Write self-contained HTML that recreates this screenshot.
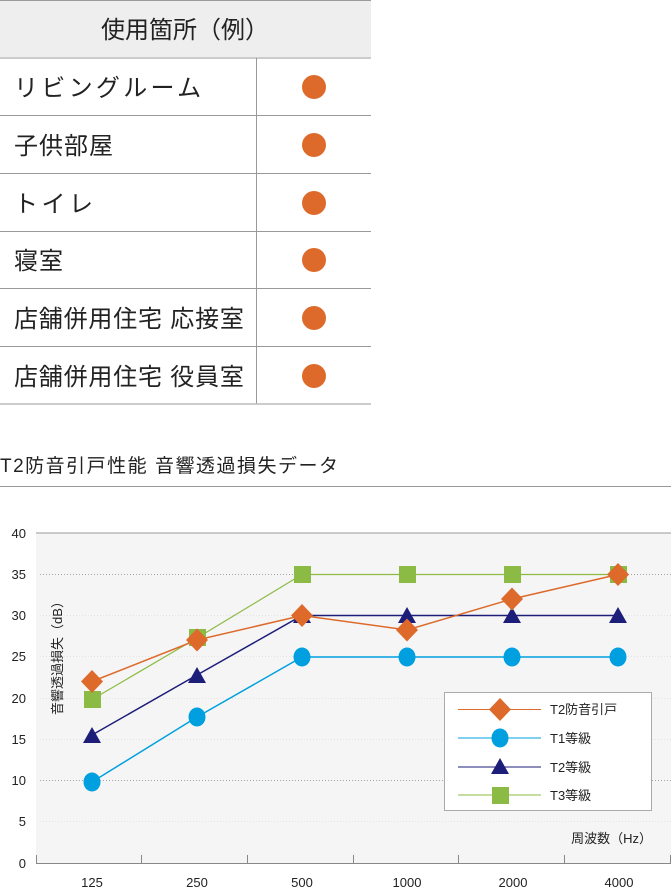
<!DOCTYPE html>
<html><head><meta charset="utf-8"><style>
body{margin:0;background:#fff;width:671px;height:892px;overflow:hidden}
svg{display:block}
text{font-family:"Liberation Sans","Noto Sans CJK JP",sans-serif}
</style></head><body>
<svg width="671" height="892" viewBox="0 0 671 892" xmlns="http://www.w3.org/2000/svg">
<rect x="0" y="0" width="371" height="57" fill="#eeeeee"/>
<line x1="0" y1="0.5" x2="371" y2="0.5" stroke="#999"/>
<line x1="0" y1="58" x2="371" y2="58" stroke="#bbb" stroke-width="1.5"/>
<g stroke="#999" stroke-width="1">
<line x1="0" y1="115.5" x2="371" y2="115.5"/>
<line x1="0" y1="173.5" x2="371" y2="173.5"/>
<line x1="0" y1="231.5" x2="371" y2="231.5"/>
<line x1="0" y1="288.5" x2="371" y2="288.5"/>
<line x1="0" y1="346.5" x2="371" y2="346.5"/>
<line x1="256.5" y1="58" x2="256.5" y2="404"/>
</g>
<line x1="0" y1="404" x2="371" y2="404" stroke="#bbb" stroke-width="1.5"/>
<g font-size="24" fill="#222">
<text x="185" y="38" text-anchor="middle">使用箇所（例）</text>
<text x="14" y="96" letter-spacing="3.3">リビングルーム</text>
<text x="14" y="154" letter-spacing="1">子供部屋</text>
<text x="14" y="212" letter-spacing="3.5">トイレ</text>
<text x="14" y="269" letter-spacing="1">寝室</text>
<text x="14" y="327" letter-spacing="0.8">店舗併用住宅 応接室</text>
<text x="14" y="385" letter-spacing="0.8">店舗併用住宅 役員室</text>
</g>
<g fill="#dd6a2a">
<circle cx="314" cy="87" r="12"/><circle cx="314" cy="145" r="12"/><circle cx="314" cy="203" r="12"/>
<circle cx="314" cy="260" r="12"/><circle cx="314" cy="318" r="12"/><circle cx="314" cy="376" r="12"/>
</g>
<text x="0" y="472" font-size="19" fill="#222" letter-spacing="1.5">T2防音引戸性能 音響透過損失データ</text>
<line x1="0" y1="486.5" x2="671" y2="486.5" stroke="#999"/>
<rect x="36" y="533" width="635" height="330" fill="#f5f5f5"/>
<line x1="36" y1="533" x2="671" y2="533" stroke="#999"/>
<g stroke="#888" stroke-dasharray="1,2" stroke-width="0.8">
<line x1="40" y1="574.5" x2="671" y2="574.5"/>
<line x1="40" y1="615.5" x2="671" y2="615.5" stroke="#ddd"/>
<line x1="40" y1="656.5" x2="671" y2="656.5" stroke="#ddd"/>
<line x1="40" y1="698.5" x2="671" y2="698.5" stroke="#ddd"/>
<line x1="40" y1="739.5" x2="671" y2="739.5" stroke="#ddd"/>
<line x1="40" y1="780.5" x2="671" y2="780.5"/>
<line x1="40" y1="821.5" x2="671" y2="821.5" stroke="#ddd"/>
</g>
<line x1="36" y1="863.5" x2="671" y2="863.5" stroke="#888"/>
<g stroke="#888">
<line x1="36.5" y1="855" x2="36.5" y2="863"/><line x1="141.5" y1="855" x2="141.5" y2="863"/>
<line x1="247.5" y1="855" x2="247.5" y2="863"/><line x1="353.5" y1="855" x2="353.5" y2="863"/>
<line x1="458.5" y1="855" x2="458.5" y2="863"/><line x1="564.5" y1="855" x2="564.5" y2="863"/>
<line x1="670.5" y1="855" x2="670.5" y2="863"/>
</g>
<g font-size="13" fill="#222" text-anchor="end">
<text x="26" y="538">40</text><text x="26" y="579">35</text><text x="26" y="620">30</text>
<text x="26" y="661">25</text><text x="26" y="703">20</text><text x="26" y="744">15</text>
<text x="26" y="785">10</text><text x="26" y="826">5</text><text x="26" y="868">0</text>
</g>
<g font-size="13" fill="#222" text-anchor="middle">
<text x="92" y="887">125</text><text x="197" y="887">250</text><text x="302" y="887">500</text>
<text x="407" y="887">1000</text><text x="513" y="887">2000</text><text x="619" y="887">4000</text>
</g>
<text x="0" y="0" font-size="13" fill="#222" text-anchor="middle" transform="translate(62,655) rotate(-90)">音響透過損失（dB）</text>
<text x="652" y="843" font-size="13" fill="#222" text-anchor="end">周波数（Hz）</text>
<polyline points="92,782 197,717 302,657 407,657 512,657 618,657" fill="none" stroke="#00a0e0" stroke-width="1.5"/>
<polyline points="92,735 197,675 302,615.5 407,615.5 512,615.5 618,615.5" fill="none" stroke="#1d1d7a" stroke-width="1.5"/>
<polyline points="92,699.5 197,638 302,574.5 407,574.5 512,574.5 618,574.5" fill="none" stroke="#8cbb45" stroke-width="1.2"/>
<polyline points="92,681.5 197,640 302,615.5 407,630 512,599 618,574.5" fill="none" stroke="#dd6a2a" stroke-width="1.5"/>
<g fill="#8cbb45">
<rect x="84" y="691" width="17" height="17"/><rect x="189" y="629" width="17" height="17"/>
<rect x="294" y="566" width="17" height="17"/><rect x="399" y="566" width="17" height="17"/>
<rect x="504" y="566" width="17" height="17"/><rect x="610" y="566" width="17" height="17"/>
</g>
<g fill="#00a0e0">
<ellipse cx="92" cy="782" rx="8.5" ry="9.5"/><ellipse cx="197" cy="717" rx="8.5" ry="9.5"/>
<ellipse cx="302" cy="657" rx="8.5" ry="9.5"/><ellipse cx="407" cy="657" rx="8.5" ry="9.5"/>
<ellipse cx="512" cy="657" rx="8.5" ry="9.5"/><ellipse cx="618" cy="657" rx="8.5" ry="9.5"/>
</g>
<g fill="#1d1d7a">
<polygon points="92,727 83,743 101,743"/><polygon points="197,667 188,683 206,683"/>
<polygon points="302,607 293,623 311,623"/><polygon points="407,607 398,623 416,623"/>
<polygon points="512,607 503,623 521,623"/><polygon points="618,607 609,623 627,623"/>
</g>
<g fill="#dd6a2a">
<polygon points="92,670 103,681.5 92,693 81,681.5"/><polygon points="197,628.5 208,640 197,651.5 186,640"/>
<polygon points="302,604 313,615.5 302,627 291,615.5"/><polygon points="407,618.5 418,630 407,641.5 396,630"/>
<polygon points="512,587.5 523,599 512,610.5 501,599"/><polygon points="618,563 629,574.5 618,586 607,574.5"/>
</g>
<rect x="444.5" y="692.5" width="207" height="118" fill="#fff" stroke="#aaa"/>
<line x1="458" y1="709.5" x2="541" y2="709.5" stroke="#dd6a2a"/>
<polygon points="500,698 511,709.5 500,721 489,709.5" fill="#dd6a2a"/>
<line x1="458" y1="738" x2="541" y2="738" stroke="#00a0e0"/>
<ellipse cx="500" cy="738" rx="8.5" ry="9.5" fill="#00a0e0"/>
<line x1="458" y1="767" x2="541" y2="767" stroke="#1d1d7a"/>
<polygon points="500,758 491,774 509,774" fill="#1d1d7a"/>
<line x1="458" y1="795" x2="541" y2="795" stroke="#8cbb45"/>
<rect x="492" y="787" width="17" height="17" fill="#8cbb45"/>
<g font-size="13" fill="#222">
<text x="550" y="714">T2防音引戸</text><text x="550" y="743">T1等級</text>
<text x="550" y="772">T2等級</text><text x="550" y="800">T3等級</text>
</g>
</svg>
</body></html>
